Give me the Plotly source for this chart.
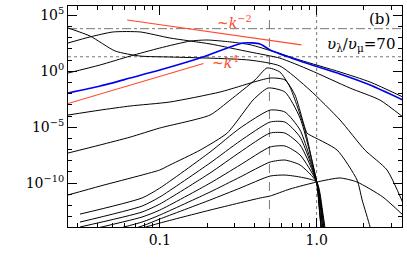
import numpy as np
import plotly.graph_objects as go

# ---------------- data ----------------
PIV = 1.25e-10

g0_k = [0.042, 0.077, 0.100, 0.209, 0.436, 0.505, 0.676, 1.0, 1.41, 1.81, 2.64, 3.55]
g0_E = [8.1e-16, 9.6e-15, 2.7e-14, 3.9e-13, 4.7e-12, 7.1e-12, 3.0e-11, PIV, 2.9e-10, 1.26e-10, 5.8e-12, 1.4e-13]

gk = [0.031, 0.077, 0.100, 0.209, 0.325, 0.505, 0.628, 0.784, 1.0]
g1_E = [4.4e-16, 1.45e-14, 6.2e-14, 3.1e-12, 3.6e-11, 4.3e-10, 5.3e-10, 3.5e-10, PIV]
g2_E = [1.23e-15, 3.3e-14, 1.4e-13, 1.6e-11, 3.5e-10, 7.7e-9, 1.16e-8, 4.2e-9, PIV]
g3_E = [4.3e-15, 9.3e-14, 3.9e-13, 1.0e-10, 4.2e-9, 1.7e-7, 2.1e-7, 3.3e-8, PIV]
g4_E = [1.2e-14, 2.6e-13, 1.35e-12, 8.0e-10, 6.0e-8, 3.0e-6, 3.0e-6, 2.6e-7, PIV]
g5_E = [3.3e-14, 8.9e-13, 5.8e-12, 6.3e-9, 5.9e-7, 2.9e-5, 2.9e-5, 1.3e-6, PIV]
g6_E = [1.7e-13, 4.7e-12, 3.6e-11, 6.0e-8, 8.5e-6, 3.4e-4, 2.3e-4, 5.6e-6, PIV]
g1_tail_k = [1.10, 1.18]
g2_tail_k = [1.08, 1.16]
g3_tail_k = [1.08, 1.15]
g4_tail_k = [1.065, 1.13]
g5_tail_k = [1.065, 1.11]
g6_tail_k = [1.05, 1.10]
g1_tail_E = [1.4e-13, 1.0e-16]
g2_tail_E = [3.9e-13, 1.0e-16]
g3_tail_E = [2.6e-13, 1.0e-16]
g4_tail_E = [3.9e-13, 1.0e-16]
g5_tail_E = [2.6e-13, 1.0e-16]
g6_tail_E = [2.6e-13, 1.0e-16]

g7_k = [0.026, 0.0417, 0.077, 0.100, 0.116, 0.181, 0.269, 0.340, 0.393, 0.490, 0.628, 0.784, 1.0, 1.05, 1.10]
g7_E = [8.7e-12, 5.5e-11, 5.3e-10, 1.5e-9, 4.2e-9, 9.1e-8, 3.0e-6, 1.9e-4, 2.7e-3, 0.032, 0.014, 6.6e-5, PIV, 1.4e-13, 1.0e-16]

g8_k = [0.026, 0.0417, 0.0647, 0.100, 0.209, 0.281, 0.405, 0.483, 0.583, 0.676, 0.843, 0.933, 1.0, 1.065, 1.11]
g8_E = [4.9e-8, 2.6e-7, 1.3e-6, 8.5e-6, 1.23e-4, 2.7e-3, 0.17, 2.0, 0.86, 0.039, 5.6e-6, 1.16e-8, PIV, 1.2e-14, 1.0e-16]

g9_k = [0.026, 0.0417, 0.0647, 0.116, 0.242, 0.505, 0.628, 0.728, 0.867, 0.906, 1.35, 1.81, 1.95, 2.19, 2.35]
g9_E = [1.23e-4, 3.4e-4, 7.9e-4, 1.8e-3, 0.014, 0.25, 0.17, 7.6e-3, 3.0e-6, 2.0e-6, 9.1e-8, 1.9e-10, 3.1e-12, 1.2e-14, 1.0e-16]

ua_k = [0.026, 0.036, 0.052, 0.075, 0.116, 0.209, 0.376, 0.583, 0.906, 1.41, 2.03, 2.81, 3.55]
ua_E = [7.5e3, 1.4e3, 65, 23, 19, 15, 10, 3.0, 0.021, 4.4e-5, 9.1e-8, 1.5e-9, 1.66e-12]

ub_k = [0.026, 0.036, 0.0505, 0.075, 0.116, 0.209, 0.376, 0.583, 0.906, 1.63, 2.53, 3.55]
ub_E = [3.4e2, 1.2e3, 3.3e3, 3.3e3, 9.5e2, 2.8e2, 53, 15, 1.3, 0.032, 2.7e-3, 8.2e-5]

uc_k = [0.026, 0.0417, 0.0647, 0.100, 0.156, 0.200, 0.270, 0.376, 0.542, 0.784, 1.41, 2.19, 3.55]
uc_E = [0.70, 3.7, 23, 1.2e2, 5.0e2, 6.3e2, 4.5e2, 2.4e2, 53, 10, 0.86, 0.11, 5.0e-3]

blue_k = [0.026, 0.0417, 0.0647, 0.100, 0.189, 0.340, 0.436, 0.505, 0.784, 1.41, 2.19, 3.55]
blue_E = [0.0115, 0.048, 0.25, 1.3, 19, 3.4e2, 2.8e2, 80, 8.3, 0.57, 0.059, 2.7e-3]

slope_m2_k = [0.062, 0.80]
slope_m2_E = [3.9e4, 2.3e2]
slope_p4_k = [0.026, 0.19]
slope_p4_E = [1.3e-3, 5.0]

E_dashdot = 6.5e3
E_dotted = 20.0
k_dashed = 0.5
k_dotted = 1.0

x_range_k = [0.026, 3.5]
y_range_E = [1.2e-14, 6.9e5]

ytick_vals = [1e5, 1e0, 1e-5, 1e-10]
ytick_text = ["10<sup>5</sup>", "10<sup>0</sup>", "10<sup>\u22125</sup>", "10<sup>\u221210</sup>"]
xtick_vals = [0.1, 1.0]
xtick_text = ["0.1", "1.0"]

# ---------------- figure ----------------
FONT = "DejaVu Serif"
fig = go.Figure()

def line(x, y, color="black", width=1.0, dash="solid", smooth=True):
    ln = dict(color=color, width=width, dash=dash)
    if smooth:
        ln.update(shape="spline", smoothing=0.6)
    fig.add_trace(go.Scatter(x=x, y=y, mode="lines", line=ln,
                             showlegend=False, hoverinfo="skip"))

# reference lines
line(x_range_k, [E_dashdot, E_dashdot], color="#777777", width=1.0, dash="dashdot", smooth=False)
line(x_range_k, [E_dotted, E_dotted], color="#777777", width=1.0, dash="dot", smooth=False)
line([k_dashed, k_dashed], y_range_E, color="#777777", width=1.0, dash="dash", smooth=False)
line([k_dotted, k_dotted], y_range_E, color="#777777", width=1.0, dash="dot", smooth=False)

line(g0_k, g0_E)
for E, tk, tE in [(g1_E, g1_tail_k, g1_tail_E), (g2_E, g2_tail_k, g2_tail_E),
                  (g3_E, g3_tail_k, g3_tail_E), (g4_E, g4_tail_k, g4_tail_E),
                  (g5_E, g5_tail_k, g5_tail_E), (g6_E, g6_tail_k, g6_tail_E)]:
    line(gk + tk, E + tE)
line(g7_k, g7_E)
line(g8_k, g8_E)
line(g9_k, g9_E)
line(ua_k, ua_E)
line(ub_k, ub_E)
line(uc_k, uc_E)
line(blue_k, blue_E, color="#0000ee", width=1.6)

line(slope_m2_k, slope_m2_E, color="#ff4a2a", width=1.1, smooth=False)
line(slope_p4_k, slope_p4_E, color="#ff4a2a", width=1.1, smooth=False)

ann_font = dict(family=FONT, size=14, color="#ff4a2a")
fig.add_annotation(x=np.log10(0.30), y=np.log10(2.6e4), text="~<i>k</i><sup>\u22122</sup>",
                   showarrow=False, font=ann_font)
fig.add_annotation(x=np.log10(0.26), y=np.log10(6.8), text="~<i>k</i><sup>4</sup>",
                   showarrow=False, font=ann_font)
fig.add_annotation(x=1, y=1, xref="paper", yref="paper", xanchor="right", yanchor="top",
                   xshift=-10, yshift=-2, text="(b)", showarrow=False,
                   font=dict(family=FONT, size=15, color="black"))
fig.add_annotation(x=1, y=1, xref="paper", yref="paper", xanchor="right", yanchor="top",
                   xshift=-5, yshift=-27, text="<i>\u03c5</i><sub>\u03bb</sub>/<i>\u03c5</i><sub>\u03bc</sub>=70",
                   showarrow=False, font=dict(family=FONT, size=15, color="black"))

minor_x = [v * m for v in [0.01, 0.1, 1.0] for m in range(2, 10)] + [0.1, 1.0]
minor_y = [10.0 ** e for e in range(-14, 7)]

axis_common = dict(showgrid=False, zeroline=False, showline=True, linecolor="black",
                   linewidth=1, mirror="ticks", ticks="inside", tickcolor="black",
                   tickfont=dict(family=FONT, size=14, color="black"))

fig.update_xaxes(type="log", range=[np.log10(x_range_k[0]), np.log10(x_range_k[1])],
                 tickmode="array", tickvals=xtick_vals, ticktext=xtick_text,
                 ticklen=9, tickwidth=1,
                 minor=dict(tickmode="array", tickvals=minor_x, ticks="inside",
                            ticklen=4, tickcolor="black", showgrid=False),
                 **axis_common)
fig.update_yaxes(type="log", range=[np.log10(y_range_E[0]), np.log10(y_range_E[1])],
                 tickmode="array", tickvals=ytick_vals, ticktext=ytick_text,
                 ticklen=9, tickwidth=1,
                 minor=dict(tickmode="array", tickvals=minor_y, ticks="inside",
                            ticklen=4, tickcolor="black", showgrid=False),
                 **axis_common)

fig.update_layout(width=407, height=271, margin=dict(l=68, r=5, t=6, b=44),
                  paper_bgcolor="white", plot_bgcolor="white")
fig.write_html("out.html", config={"displayModeBar": False},
               post_script="document.body.style.margin='0';document.body.style.overflow='hidden';")
